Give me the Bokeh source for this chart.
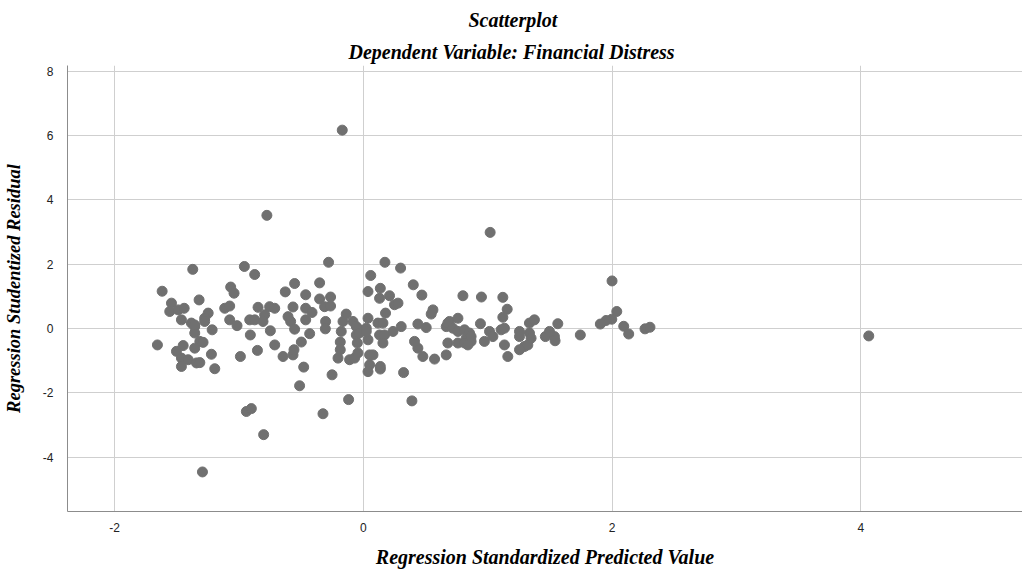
from bokeh.plotting import figure
from bokeh.models import Range1d, Title, FixedTicker, CustomJSTickFormatter
from bokeh.embed import file_html
from bokeh.resources import INLINE

title_main = "Scatterplot"
title_sub = "Dependent Variable: Financial Distress"
x_label = "Regression Standardized Predicted Value"
y_label = "Regression Studentized Residual"
x_ticks = [-2, 0, 2, 4]
y_ticks = [-4, -2, 0, 2, 4, 6, 8]

pred = [-0.775, -0.279, -1.371, -0.956, -0.873, -1.617, -1.066, -1.039, -1.32, -0.552, -0.627, -0.351, -0.463, -0.263, -0.351,
        -1.542, -1.556, -1.488, -1.44, -1.462, -1.382, -1.355, -1.247, -1.275, -1.275, -1.215, -1.355, -1.655, -1.448, -1.314,
        -1.288, -1.114, -1.074, -1.074, -1.015, -0.913, -0.873, -0.908, -0.846, -0.753, -0.712, -0.793, -0.806, -0.747, -0.712,
        -0.565, -0.605, -0.584, -0.552, -0.463, -0.412, -0.463, -0.431, -0.498, -0.311, -0.263, -0.303, -0.305, -0.137, -0.163,
        -0.177, -0.083, -0.185, -0.056, -0.030, 0.024, 0.038, -0.048, 0.038, 0.06, 0.038,
        -1.502, -1.462, -1.408, -1.341, -1.314, -1.462, -1.355, -1.221, -1.194, -0.988, -0.851, -0.645, -0.565, -0.557, -0.479,
        -0.512, -0.251, -0.324, -0.118, -0.940, -0.900, -0.801, -1.293, -0.185, -0.203, -0.110, -0.070, -0.043, 0.051, 0.038,
        0.051, -1.355,
        0.137, 0.137, 0.078, 0.391, 0.324, 0.439, 0.479, 0.573, 0.667, 0.761, 0.867, 0.827, 1.162, 0.693, 0.667,
        1.020, 0.174, 0.300, 0.137, 0.131, 0.211, 0.402, 0.471, 0.801, 0.950, 1.122, 1.157, 1.122, -0.056, -0.030, 0.024,
        0.118, 0.158, 0.131, 0.171, 0.179, 0.158, 0.251, 0.279, 0.239, 0.305, 0.412, 0.439, 0.506, 0.546, 0.560, 0.680, 0.761,
        0.680, 0.720, 0.761, 0.814, 0.854, 0.867, 0.814, 0.841, 0.942, 0.974, 1.015, 1.042, 1.108, 1.135, 1.135, 1.256, 1.256,
        1.336, 1.296,
        2.0, 2.038, 1.998, 1.952, 1.906, 2.094, 2.134, 2.265, 2.305, 1.745, 1.564, 1.464, 1.537, 1.542, 1.497, 1.376, 1.336,
        1.349, 1.323, 1.256,
        4.064, -0.169]

resid = [3.52, 2.06, 1.84, 1.93, 1.68, 1.16, 1.29, 1.10, 0.89, 1.40, 1.14, 1.42, 1.05, 0.98, 0.92,
         0.79, 0.53, 0.58, 0.63, 0.27, 0.17, 0.06, 0.48, 0.32, 0.22, -0.04, -0.14, -0.51, -0.53, -0.40,
         -0.43, 0.63, 0.70, 0.27, 0.09, 0.27, 0.27, -0.20, 0.66, 0.68, 0.63, 0.43, 0.22, -0.07, -0.51,
         0.67, 0.37, 0.22, -0.02, 0.63, 0.50, 0.27, -0.16, -0.42, 0.68, 0.70, 0.22, -0.01, 0.45, 0.22,
         -0.09, 0.22, -0.42, -0.20, -0.04, 0.01, 0.32, -0.45, -0.35, 1.65, 1.15,
         -0.71, -0.92, -0.97, -1.07, -1.06, -1.18, -0.61, -0.80, -1.25, -0.87, -0.68, -0.87, -0.82, -0.66, -1.20,
         -1.78, -1.44, -2.65, -2.21, -2.58, -2.49, -3.30, -4.46, -0.66, -0.92, -0.97, -0.92, -0.76, -1.13, -1.34,
         -0.82, 0.11,
         -1.26, -1.18, -0.82, -2.25, -1.37, -0.61, -0.87, -0.95, -0.82, -0.45, -0.40, -0.30, -0.87, 0.22, 0.06,
         2.99, 2.06, 1.88, 1.25, 0.94, 1.02, 1.36, 1.04, 1.02, 0.98, 0.97, 0.60, 0.35, 0.06, -0.14, -0.09,
         0.17, 0.17, -0.20, -0.20, 0.48, -0.45, 0.74, 0.79, -0.09, 0.06, -0.40, 0.14, 0.03, 0.45, 0.58, 0.17, 0.32,
         -0.45, 0.01, -0.09, -0.04, -0.14, -0.25, -0.45, -0.51, 0.15, -0.40, -0.09, -0.25, -0.04, 0.01, -0.51, -0.09, -0.25,
         0.17, -0.56,
         1.48, 0.53, 0.29, 0.25, 0.14, 0.07, -0.17, -0.01, 0.04, -0.20, 0.15, -0.25, -0.25, -0.38, -0.09, 0.27, -0.14,
         -0.30, -0.51, -0.66,
         -0.23, 6.17]

SERIF = "Liberation Serif"
SANS = "Liberation Sans"

p = figure(width=1022, height=570, output_backend="svg", toolbar_location=None, title=None,
           x_range=Range1d(-2.378, 5.30), y_range=Range1d(-5.69, 8.18),
           min_border_left=66, min_border_right=0, min_border_top=65, min_border_bottom=58)
p.background_fill_color = "white"
p.border_fill_color = "white"
p.outline_line_color = None

p.add_layout(Title(text=title_sub, align="left", offset=281, standoff=5,
                   text_font=SERIF, text_font_style="bold italic", text_font_size="20px",
                   text_color="black"), "above")
p.add_layout(Title(text=title_main, align="left", offset=401, standoff=12,
                   text_font=SERIF, text_font_style="bold italic", text_font_size="20px",
                   text_color="black"), "above")

fmt = CustomJSTickFormatter(code="return tick.toString();")
for ax in (p.xaxis[0], p.yaxis[0]):
    ax.major_tick_line_color = None
    ax.minor_tick_line_color = None
    ax.axis_line_color = "#8c8c8c"
    ax.major_label_text_font = SANS
    ax.major_label_text_font_size = "12px"
    ax.major_label_text_color = "#222222"
    ax.axis_label_text_font = SERIF
    ax.axis_label_text_font_style = "bold italic"
    ax.axis_label_text_color = "black"
    ax.formatter = fmt

p.xaxis.axis_label_text_font_size = "20px"
p.yaxis.axis_label_text_font_size = "18.5px"
p.xaxis.ticker = FixedTicker(ticks=x_ticks)
p.yaxis.ticker = FixedTicker(ticks=y_ticks)
p.xaxis.axis_label = x_label
p.yaxis.axis_label = y_label
p.xaxis.major_label_standoff = 5
p.yaxis.major_label_standoff = 8
p.xaxis.axis_label_standoff = 11
p.yaxis.axis_label_standoff = 16

p.xgrid.ticker = FixedTicker(ticks=x_ticks)
p.ygrid.ticker = FixedTicker(ticks=y_ticks)
p.grid.grid_line_color = "#cfcfcf"
p.grid.grid_line_width = 1

p.scatter(pred, resid, size=10, fill_color="#707070", line_color="#707070")

open("out.html", "w").write(file_html(p, INLINE))
